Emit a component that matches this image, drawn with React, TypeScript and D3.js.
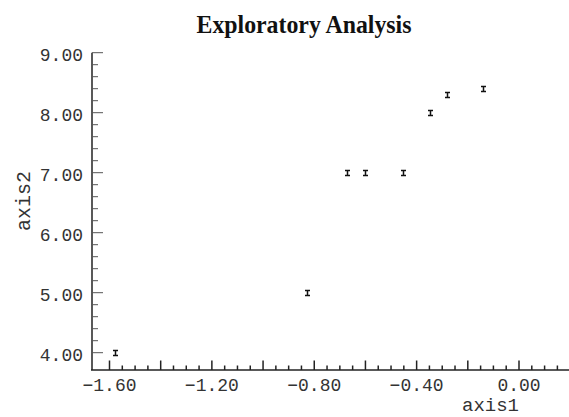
import React from 'react';
import * as d3 from 'd3';

// values
const axis1Values = [-1.58, -0.83, -0.673, -0.602, -0.455, -0.348, -0.283, -0.142];
const axis2Values = [4.0, 5.0, 7.0, 7.0, 7.0, 8.0, 8.3, 8.4];
const xTickLabels = [-1.6, -1.2, -0.8, -0.4, 0.0];
const yTickLabels = [4, 5, 6, 7, 8, 9];

const width = 569, height = 417;
const monoFont = '"Liberation Mono", "DejaVu Sans Mono", monospace';

export default function App() {
  const x = d3.scaleLinear().domain([-1.6, 0]).range([109.5, 519]);
  const y = d3.scaleLinear().domain([4, 9]).range([352.7, 52.7]);

  const axisLeft = 92;
  const axisBottom = 370;
  const fmt = d3.format('.2f');

  // x ticks every 0.05 up to the right edge, taller every 0.2
  const xMinor = d3.range(0, 36).map(i => -1.6 + i * 0.05).filter(v => x(v) <= width - 2);
  // y ticks every 0.2, longer at integers
  const yMinor = d3.range(0, 26).map(i => 4 + i * 0.2);

  const points = axis1Values.map((v, i) => ({ x: v, y: axis2Values[i] }));

  return (
    <svg width={width} height={height} style={{ position: 'absolute', left: 0, top: 0, background: '#fff' }}>
      <text x={304} y={33} textAnchor="middle" fontFamily='"Liberation Serif", serif' fontWeight="bold"
        fontSize={26} textLength={215} lengthAdjust="spacingAndGlyphs" fill="#111">
        Exploratory Analysis
      </text>

      {/* y axis */}
      <line x1={axisLeft} x2={axisLeft} y1={y(9)} y2={axisBottom} stroke="#222" strokeWidth={1.5} />
      {yMinor.map((v, i) => {
        const major = i % 5 === 0;
        return (
          <line key={'yt' + i} x1={axisLeft} x2={axisLeft + (major ? 11 : 6)} y1={y(v)} y2={y(v)}
            stroke="#555" strokeWidth={1} />
        );
      })}
      {yTickLabels.map(v => (
        <text key={'yl' + v} x={83} y={y(v) + 8.5} textAnchor="end" fontFamily={monoFont}
          fontSize={18} fill="#333">{fmt(v)}</text>
      ))}

      {/* x axis */}
      <line x1={axisLeft - 1} x2={width} y1={axisBottom} y2={axisBottom} stroke="#222" strokeWidth={1.5} />
      {xMinor.map((v, i) => {
        const major = i % 4 === 0;
        return (
          <line key={'xt' + i} x1={x(v)} x2={x(v)} y1={axisBottom} y2={axisBottom - (major ? 9.5 : 4.5)}
            stroke="#222" strokeWidth={1.5} />
        );
      })}
      {xTickLabels.map(v => (
        <text key={'xl' + v} x={x(v)} y={391} textAnchor="middle" fontFamily={monoFont}
          fontSize={18} fill="#333">{fmt(v)}</text>
      ))}

      <text x={519} y={411} textAnchor="end" fontFamily={monoFont} fontSize={19} fill="#333">axis1</text>
      <text transform={`translate(30,201) rotate(-90)`} textAnchor="middle" fontFamily={monoFont}
        fontSize={20} fill="#333">axis2</text>

      {/* I-beam markers */}
      {points.map((p, i) => {
        const cx = Math.round(x(p.x)) + 0.5, cy = Math.round(y(p.y));
        return (
          <path key={'pt' + i}
            d={`M${cx - 2.5},${cy - 2.5}H${cx + 2.5}M${cx - 2.5},${cy + 2.5}H${cx + 2.5}M${cx},${cy - 2.5}V${cy + 2.5}`}
            stroke="#111" strokeWidth={1.5} fill="none" />
        );
      })}
    </svg>
  );
}
